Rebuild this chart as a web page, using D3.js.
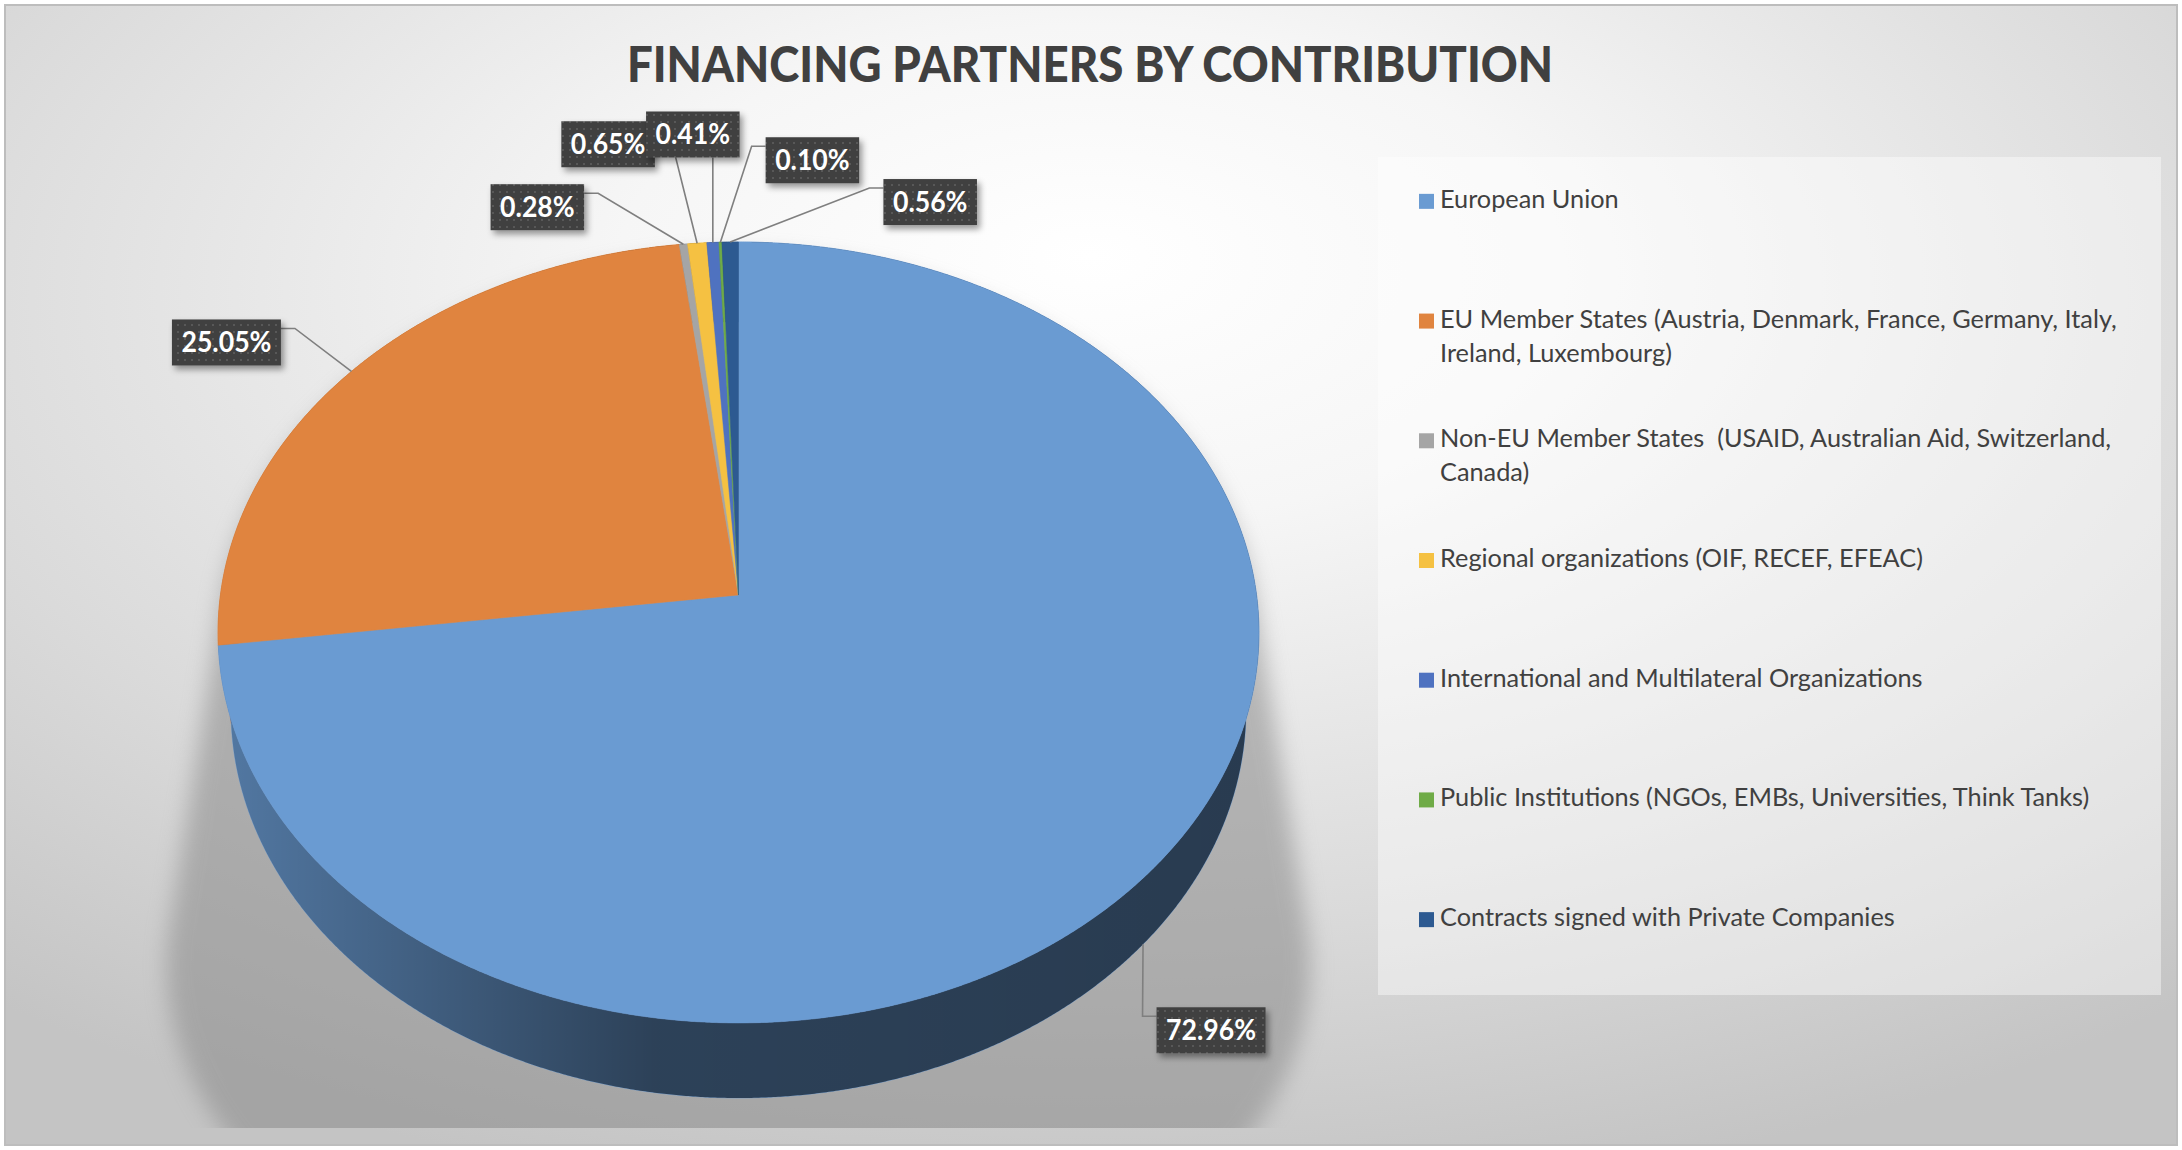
<!DOCTYPE html>
<html><head><meta charset="utf-8">
<script src="https://cdn.jsdelivr.net/npm/d3@7"></script>
<style>
html,body{margin:0;padding:0;background:#ffffff;}
svg{display:block;}
text{font-family:Lato,"Open Sans","DejaVu Sans",sans-serif;}
</style>
</head><body>
<svg id="chart" width="2182" height="1150"></svg>
<script>
// ---------------- data ----------------
const chartTitle = "FINANCING PARTNERS BY CONTRIBUTION";
const categories = [
  "European Union",
  "EU Member States (Austria, Denmark, France, Germany, Italy, Ireland, Luxembourg)",
  "Non-EU Member States  (USAID, Australian Aid, Switzerland, Canada)",
  "Regional organizations (OIF, RECEF, EFEAC)",
  "International and Multilateral Organizations",
  "Public Institutions (NGOs, EMBs, Universities, Think Tanks)",
  "Contracts signed with Private Companies"
];
const values = [72.96, 25.05, 0.28, 0.65, 0.41, 0.10, 0.56];
const valueLabels = ["72.96%", "25.05%", "0.28%", "0.65%", "0.41%", "0.10%", "0.56%"];
const colors = ["#6a9bd2", "#e0843f", "#a5a5a5", "#f5c142", "#4f72c0", "#6fab47", "#2d5a91"];
// label box offsets from their leader anchor (layout only)
const labelOffsets = [[68, 86], [-125, -29], [-146, -37], [-89, -99], [-20, -108], [92, -82], [200, -40]];

// ---------------- setup ----------------
const W = 2182, H = 1150;
const svg = d3.select("#chart");
const defs = svg.append("defs");

const bg = defs.append("radialGradient").attr("id", "bgGrad")
  .attr("cx", 0.5).attr("cy", 0.28).attr("r", 0.78).attr("fx", 0.5).attr("fy", 0.22);
bg.append("stop").attr("offset", 0).attr("stop-color", "#ffffff");
bg.append("stop").attr("offset", 0.28).attr("stop-color", "#f6f6f6");
bg.append("stop").attr("offset", 0.7).attr("stop-color", "#dadada");
bg.append("stop").attr("offset", 1).attr("stop-color", "#c4c4c4");

const wallGrad = defs.append("linearGradient").attr("id", "wallGrad")
  .attr("gradientUnits", "userSpaceOnUse").attr("x1", 215).attr("y1", 0).attr("x2", 1260).attr("y2", 0);
wallGrad.append("stop").attr("offset", 0).attr("stop-color", "#000").attr("stop-opacity", 0.22);
wallGrad.append("stop").attr("offset", 0.42).attr("stop-color", "#000").attr("stop-opacity", 0.58);
wallGrad.append("stop").attr("offset", 1).attr("stop-color", "#000").attr("stop-opacity", 0.62);

const shadowF = defs.append("filter").attr("id", "shadowBlur")
  .attr("x", -0.3).attr("y", -0.3).attr("width", 1.6).attr("height", 1.6);
shadowF.append("feGaussianBlur").attr("stdDeviation", 11);

const boxShadow = defs.append("filter").attr("id", "boxShadow")
  .attr("x", -0.3).attr("y", -0.3).attr("width", 1.6).attr("height", 1.8);
boxShadow.append("feDropShadow").attr("dx", 3).attr("dy", 4).attr("stdDeviation", 3)
  .attr("flood-color", "#000").attr("flood-opacity", 0.4);

const dots = defs.append("pattern").attr("id", "dots").attr("patternUnits", "userSpaceOnUse")
  .attr("width", 7).attr("height", 7);
dots.append("rect").attr("width", 7).attr("height", 7).attr("fill", "#404040");
dots.append("rect").attr("x", 2).attr("y", 2).attr("width", 2).attr("height", 2).attr("fill", "#585858");

defs.append("clipPath").attr("id", "plotClip")
  .append("rect").attr("x", 5).attr("y", 5).attr("width", W - 10).attr("height", 1123);

// background & border
svg.append("rect").attr("x", 5).attr("y", 5).attr("width", W - 10).attr("height", H - 10)
  .attr("fill", "url(#bgGrad)").attr("stroke", "#bdbdbd").attr("stroke-width", 2);

// ---------------- text helpers ----------------
const CAP = 0.717; // Lato cap height / em
function measure(str, size, weight) {
  const t = svg.append("text").attr("font-size", size).attr("font-weight", weight)
    .style("white-space", "pre").text(str);
  const w = t.node().getComputedTextLength();
  t.remove();
  return w;
}
// draws text at a size given by cap height, horizontally scaled to a target width
function condensedText(parent, str, x, y, capH, sx, weight, fill, anchor) {
  const size = capH / CAP;
  const g = parent.append("g").attr("transform", `translate(${x},${y}) scale(${sx},1)`);
  g.append("text").attr("x", 0).attr("y", 0).attr("font-size", size).attr("font-weight", weight)
    .attr("fill", fill).attr("text-anchor", anchor || "start").style("white-space", "pre").text(str);
  return g;
}

// ---------------- title ----------------
const titleCap = 35, titleW = 926;
const titleSX = titleW / measure(chartTitle, titleCap / CAP, 900);
condensedText(svg, chartTitle, 1090, 82, titleCap, titleSX, 900, "#404040", "middle");

// ---------------- 3D pie projection ----------------
const cx = 738.5, cy = 595;
const F = 3589, DR = 6.928, sinA = 0.7468, cosA = Math.sqrt(1 - sinA * sinA), depth = 0.2337;
function proj(theta, h) {
  const u = Math.sin(theta), v = -Math.cos(theta);
  const yc = v * sinA + h * cosA, z = DR - v * cosA + h * sinA;
  return [cx + F * u / z, cy + F * yc / z];
}
function arcPts(a0, a1, h) {
  const n = Math.max(2, Math.ceil((a1 - a0) / (Math.PI / 720)));
  return d3.range(n + 1).map(i => proj(a0 + (a1 - a0) * i / n, h));
}

const pie = d3.pie().sort(null).value(d => d).startAngle(0).endAngle(2 * Math.PI);
const arcs = pie(values).map((a, i) => ({...a, i}));
const line = d3.line();

// shadow
const shadowPts = [];
for (let k = 0; k < 360; k += 2) {
  const t = k * Math.PI / 180;
  const p0 = proj(t, 0);
  shadowPts.push([cx + (p0[0] - cx) * 1.0, p0[1] + 14]);
  const p1 = proj(t, 1.1);
  shadowPts.push([cx + (p1[0] - cx) * 1.23, p1[1]]);
}
svg.append("g").attr("clip-path", "url(#plotClip)")
  .append("path").attr("d", "M" + d3.polygonHull(shadowPts).join("L") + "Z")
  .attr("fill", "#8a8a8a").attr("opacity", 0.55).attr("filter", "url(#shadowBlur)");

// walls (back to front)
const gWalls = svg.append("g");
const wallOrder = arcs.slice().sort((a, b) =>
  (-Math.cos((a.startAngle + a.endAngle) / 2)) - (-Math.cos((b.startAngle + b.endAngle) / 2)));
wallOrder.forEach(a => {
  const top = arcPts(a.startAngle, a.endAngle, 0);
  const bot = arcPts(a.startAngle, a.endAngle, depth).reverse();
  const d = line(top.concat(bot)) + "Z";
  gWalls.append("path").attr("d", d).attr("fill", colors[a.i]).attr("stroke", colors[a.i]).attr("stroke-width", 0.6);
  gWalls.append("path").attr("d", d).attr("fill", "url(#wallGrad)");
});

// top faces
const gTop = svg.append("g");
arcs.forEach(a => {
  const pts = [[cx, cy]].concat(arcPts(a.startAngle, a.endAngle, 0));
  gTop.append("path").attr("d", line(pts) + "Z")
    .attr("fill", colors[a.i]).attr("stroke", colors[a.i]).attr("stroke-width", 0.5)
    .attr("stroke-linejoin", "round");
});

// ---------------- data labels ----------------
const labelCap = 20;
const labelSize = labelCap / CAP;
const labelSX = 90 / measure("72.96%", labelSize, "bold");
const boxH = 46;
const labels = arcs.map(a => {
  const mid = (a.startAngle + a.endAngle) / 2;
  const front = -Math.cos(mid) > 0.12;
  const anchor = proj(mid, front ? depth : 0);
  const tw = measure(valueLabels[a.i], labelSize, "bold") * labelSX;
  const bw = tw + 19;
  const off = labelOffsets[a.i];
  const bx0 = anchor[0] + off[0] - bw / 2, by0 = anchor[1] + off[1] - boxH / 2;
  let pts;
  if (anchor[0] > bx0 + bw) pts = [[bx0 + bw, by0 + 9], [bx0 + bw + 14, by0 + 9], anchor];
  else if (anchor[0] < bx0) pts = [[bx0, by0 + 9], [bx0 - 14, by0 + 9], anchor];
  else pts = [[anchor[0], by0 + boxH], anchor];
  return {i: a.i, bx0, by0, bw, pts};
});
const gLead = svg.append("g");
labels.forEach(l => {
  gLead.append("path").attr("d", line(l.pts)).attr("fill", "none")
    .attr("stroke", "#7f7f7f").attr("stroke-width", 1.6);
});
const gLab = svg.append("g");
labels.forEach(l => {
  const g = gLab.append("g");
  g.append("rect").attr("x", l.bx0).attr("y", l.by0).attr("width", l.bw).attr("height", boxH)
    .attr("fill", "url(#dots)").attr("filter", "url(#boxShadow)");
  condensedText(g, valueLabels[l.i], l.bx0 + l.bw / 2, l.by0 + boxH / 2 + labelCap / 2,
    labelCap, labelSX, "bold", "#ffffff", "middle");
});

// ---------------- legend ----------------
const legX0 = 1378, legY0 = 157, legX1 = 2161, legY1 = 995;
svg.append("rect").attr("x", legX0).attr("y", legY0).attr("width", legX1 - legX0).attr("height", legY1 - legY0)
  .attr("fill", "#ffffff").attr("fill-opacity", 0.42);
const legCap = 18;
const legendSize = legCap / CAP;
const legSX = 677 / measure("EU Member States (Austria, Denmark, France, Germany, Italy,", legendSize, "normal");
const legY = d3.scaleBand().domain(categories).range([legY0, legY1]);
const lineH = 34, maxW = 705;
function wrap(str) {
  const words = str.split(" ");
  const lines = [];
  let cur = "";
  words.forEach(w => {
    const test = cur === "" ? w : cur + " " + w;
    if (cur !== "" && measure(test, legendSize, "normal") * legSX > maxW) { lines.push(cur); cur = w; }
    else cur = test;
  });
  lines.push(cur);
  return lines;
}
const gLeg = svg.append("g");
categories.forEach((c, i) => {
  const base = legY(c) + legY.bandwidth() / 2 - 9;
  gLeg.append("rect").attr("x", 1419).attr("y", base - 14).attr("width", 15).attr("height", 15)
    .attr("fill", colors[i]);
  wrap(c).forEach((ln, j) => {
    condensedText(gLeg, ln, 1440, base + j * lineH, legCap, legSX, "normal", "#404040", "start");
  });
});
</script>
</body></html>
